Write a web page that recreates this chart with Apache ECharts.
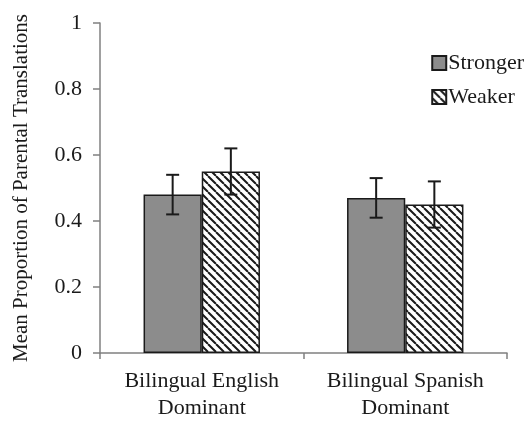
<!DOCTYPE html>
<html>
<head>
<meta charset="utf-8">
<script src="https://cdn.jsdelivr.net/npm/echarts@6/dist/echarts.min.js"></script>
<style>
  html, body { margin: 0; padding: 0; background: #fff; }
  #chart { width: 529px; height: 422px; }
</style>
</head>
<body>
<div id="chart"></div>
<script>
// Groups along the x axis
const categories = ['Bilingual English\nDominant', 'Bilingual Spanish\nDominant'];
const seriesNames = ['Stronger', 'Weaker'];
// Mean proportions
const strongerMeans = [0.48, 0.47];
const weakerMeans = [0.55, 0.45];
// Error bar half-widths
const strongerErr = [0.06, 0.06];
const weakerErr = [0.07, 0.07];
const yTicks = [0, 0.2, 0.4, 0.6, 0.8, 1];

const FONT = '"Liberation Serif", "Times New Roman", serif';
const TEXT = '#1a1a1a';
const BAR_FRACTION = 0.286; // each bar's width as a fraction of the category band

// Diagonal hatch tile for the "Weaker" bars
function hatchTile() {
  const size = 8;
  const c = document.createElement('canvas');
  c.width = size; c.height = size;
  const g = c.getContext('2d');
  g.fillStyle = '#ffffff';
  g.fillRect(0, 0, size, size);
  g.strokeStyle = '#1a1a1a';
  g.lineWidth = 2;
  g.beginPath();
  for (let k = -1; k <= 1; k++) {
    g.moveTo(k * size, 0);
    g.lineTo(k * size + size, size);
  }
  g.stroke();
  return c;
}

const chart = echarts.init(document.getElementById('chart'), null, { renderer: 'canvas' });

function errorSeries(means, errs, side) {
  return {
    type: 'custom',
    silent: true,
    z: 10,
    data: means.map((m, i) => [i, m - errs[i], m + errs[i]]),
    renderItem: function (params, api) {
      const band = api.size([1, 0])[0];
      const off = side * band * BAR_FRACTION / 2;
      const lo = api.coord([api.value(0), api.value(1)]);
      const hi = api.coord([api.value(0), api.value(2)]);
      const x = lo[0] + off;
      const cap = 6.5;
      const style = { stroke: '#1a1a1a', lineWidth: 2 };
      return {
        type: 'group',
        children: [
          { type: 'line', shape: { x1: x, y1: lo[1], x2: x, y2: hi[1] }, style },
          { type: 'line', shape: { x1: x - cap, y1: hi[1], x2: x + cap, y2: hi[1] }, style },
          { type: 'line', shape: { x1: x - cap, y1: lo[1], x2: x + cap, y2: lo[1] }, style }
        ]
      };
    }
  };
}

chart.setOption({
  animation: false,
  backgroundColor: '#ffffff',
  grid: { left: 100, right: 22, top: 23, bottom: 67 },
  legend: {
    right: 0,
    top: 47,
    orient: 'vertical',
    icon: 'rect',
    itemWidth: 14,
    itemHeight: 14,
    itemGap: 12,
    data: seriesNames,
    textStyle: { fontFamily: FONT, fontSize: 22, color: TEXT, padding: [0, 0, 0, -3] }
  },
  xAxis: {
    type: 'category',
    data: categories,
    axisLine: { lineStyle: { color: '#808080', width: 1.5 } },
    axisTick: { show: true, length: 6, lineStyle: { color: '#808080', width: 1.5 } },
    axisLabel: {
      interval: 0,
      fontFamily: FONT, fontSize: 22, color: TEXT, margin: 15, lineHeight: 27
    }
  },
  yAxis: {
    type: 'value',
    min: 0,
    max: 1,
    interval: 0.2,
    name: 'Mean Proportion of Parental Translations',
    nameLocation: 'middle',
    nameGap: 68,
    nameTextStyle: { fontFamily: FONT, fontSize: 21, color: TEXT },
    axisLine: { show: true, lineStyle: { color: '#808080', width: 1.5 } },
    axisTick: { show: true, length: 7, lineStyle: { color: '#808080', width: 1.5 } },
    splitLine: { show: false },
    axisLabel: {
      fontFamily: FONT, fontSize: 22, color: TEXT, margin: 18,
      formatter: v => (yTicks.includes(+v.toFixed(1)) ? String(+v.toFixed(1)) : '')
    }
  },
  series: [
    {
      name: seriesNames[0],
      type: 'bar',
      data: strongerMeans,
      barWidth: (BAR_FRACTION * 100) + '%',
      barGap: '0%',
      itemStyle: { color: '#8c8c8c', borderColor: '#1a1a1a', borderWidth: 1.5 }
    },
    {
      name: seriesNames[1],
      type: 'bar',
      data: weakerMeans,
      barWidth: (BAR_FRACTION * 100) + '%',
      barGap: '0%',
      itemStyle: {
        color: { image: hatchTile(), repeat: 'repeat' },
        borderColor: '#1a1a1a',
        borderWidth: 1.5
      }
    },
    errorSeries(strongerMeans, strongerErr, -1),
    errorSeries(weakerMeans, weakerErr, 1)
  ]
});
</script>
</body>
</html>
